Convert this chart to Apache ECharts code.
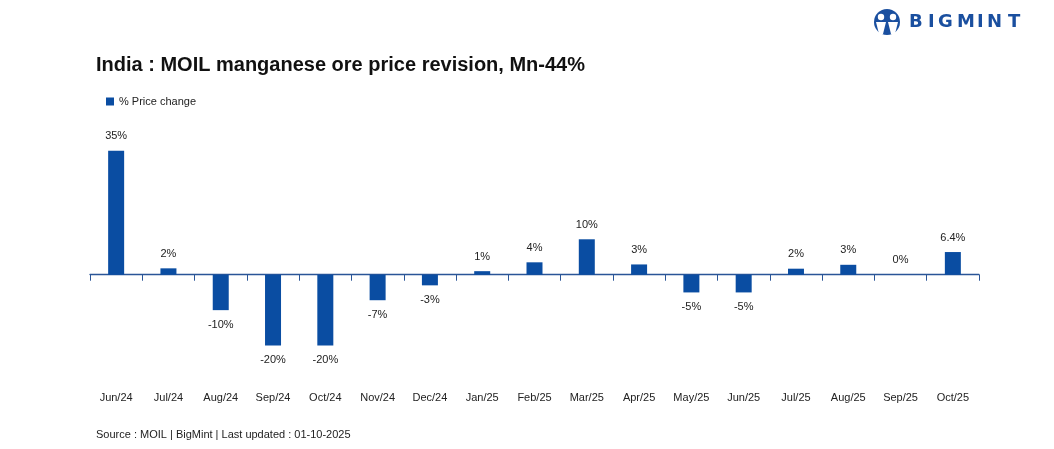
<!DOCTYPE html>
<html>
<head>
<meta charset="utf-8">
<script src="https://cdn.jsdelivr.net/npm/echarts@6/dist/echarts.min.js"></script>
<style>
html,body{margin:0;padding:0;background:#fff;}
#chart{width:1054px;height:449px;}
</style>
</head>
<body>
<div id="chart"></div>
<script>
const categories = ["Jun/24","Jul/24","Aug/24","Sep/24","Oct/24","Nov/24","Dec/24","Jan/25","Feb/25","Mar/25","Apr/25","May/25","Jun/25","Jul/25","Aug/25","Sep/25","Oct/25"];
const priceChange = [35, 1.8, -10, -20, -20, -7.2, -3, 1, 3.5, 10, 2.9, -5, -5, 1.7, 2.8, 0, 6.4];
const valueLabels = ["35%","2%","-10%","-20%","-20%","-7%","-3%","1%","4%","10%","3%","-5%","-5%","2%","3%","0%","6.4%"];

const BLUE = '#0a4da2';
const FONT = '"Liberation Sans", Arial, sans-serif';

const logoLetters = [['B',909],['I',928],['G',938],['M',957],['I',977],['N',987],['T',1008]];

const chart = echarts.init(document.getElementById('chart'));
chart.setOption({
  backgroundColor: '#fff',
  animation: false,
  title: {
    text: 'India : MOIL manganese ore price revision, Mn-44%',
    left: 91, top: 50,
    textStyle: { fontFamily: FONT, fontSize: 20, fontWeight: 'bold', color: '#111' }
  },
  legend: {
    left: 101, top: 91,
    itemWidth: 8, itemHeight: 8, itemGap: 6,
    icon: 'rect',
    textStyle: { fontFamily: FONT, fontSize: 11, color: '#222' },
    data: ['% Price change']
  },
  grid: { left: 90, right: 75, top: 133, bottom: 68 },
  xAxis: [
    {
      type: 'category', data: categories, position: 'top',
      axisLine: { onZero: true, lineStyle: { color: '#2a5597', width: 1.3 } },
      axisTick: { show: true, inside: true, length: 6, lineStyle: { color: '#2a5597' } },
      axisLabel: { show: false }
    },
    {
      type: 'category', data: categories, position: 'bottom',
      axisLine: { show: false }, axisTick: { show: false },
      axisLabel: { show: true, margin: 11, fontFamily: FONT, fontSize: 11, color: '#222', interval: 0 }
    }
  ],
  yAxis: { type: 'value', min: -30, max: 40, show: false, splitLine: { show: false } },
  series: [{
    name: '% Price change',
    type: 'bar',
    xAxisIndex: 0,
    barWidth: 16,
    itemStyle: { color: BLUE },
    label: {
      show: true, distance: 9,
      fontFamily: FONT, fontSize: 11, color: '#222',
      formatter: p => valueLabels[p.dataIndex]
    },
    data: priceChange.map(v => ({ value: v, label: { position: v < 0 ? 'bottom' : 'top' } }))
  }],
  graphic: [
    {
      type: 'text', left: 96, top: 429,
      style: { text: 'Source : MOIL | BigMint | Last updated : 01-10-2025', fontFamily: FONT, fontSize: 11, fill: '#222' }
    },
    { type: 'circle', shape: { cx: 887, cy: 22, r: 13 }, style: { fill: '#1a4f9f' } },
    { type: 'circle', shape: { cx: 881, cy: 17, r: 3.2 }, style: { fill: '#fff' } },
    { type: 'circle', shape: { cx: 893, cy: 17, r: 3.2 }, style: { fill: '#fff' } },
    { type: 'polygon', shape: { points: [[876,22],[886,22],[883,34],[879,34]] }, style: { fill: '#fff' } },
    { type: 'polygon', shape: { points: [[888,22],[898,22],[895,34],[891,34]] }, style: { fill: '#fff' } }
  ].concat(logoLetters.map(([ch, x]) => ({
    type: 'text', left: x, top: 13,
    style: { text: ch, fontFamily: '"DejaVu Sans", sans-serif', fontSize: 18, fontWeight: 'bold', fill: '#1a4f9f' }
  })))
});
</script>
</body>
</html>
